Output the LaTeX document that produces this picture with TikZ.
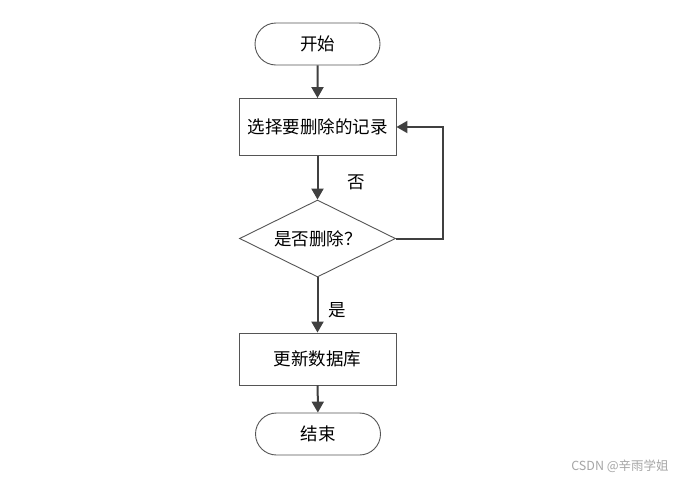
\documentclass[tikz,border=0pt]{standalone}
\usepackage{fontspec}
\newfontfamily\cjk{Noto Sans CJK SC}
\usetikzlibrary{shapes.geometric,shapes.misc,arrows.meta}
\definecolor{arr}{HTML}{404040}
\definecolor{edge}{HTML}{555555}
\tikzset{
  base/.style={draw=edge,line width=0.9pt,font=\cjk\fontsize{17.5}{20}\selectfont,inner sep=0pt},
  term/.style={base,rounded rectangle,minimum width=125pt,minimum height=42pt},
  proc/.style={base,rectangle,minimum width=157pt,minimum height=57pt},
  dec/.style={base,diamond,minimum width=156pt,minimum height=77pt},
  flow/.style={draw=arr,line width=2pt,-{Triangle[length=11pt,width=12pt]}},
  lab/.style={font=\cjk\fontsize{17.5}{20}\selectfont}
}
\begin{document}
\begin{tikzpicture}[x=1pt,y=-1pt]
\useasboundingbox[fill=white] (0,0) rectangle (677,480);
\node[term] (s) at (317.5,44) {开始};
\node[proc] (p1) at (317.5,127) {选择要删除的记录};
\node[dec] (d) at (317.5,238.5) {};
\node[lab] (dt) at (318,239) {是否删除？};
\node[proc,minimum height=52pt] (p2) at (317.5,359) {更新数据库};
\node[term] (e) at (318,434) {结束};
\coordinate (c1) at (443,238.5);
\coordinate (c2) at (443,127);
\draw[flow] (s) -- (p1);
\draw[flow] (p1) -- (d);
\draw[flow] (d) -- (p2);
\draw[flow] (p2) -- (e);
\draw[flow] (d.east) -- (c1) -- (c2) -- (p1.east);
\node[lab] (no) at (356,182) {否};
\node[lab] (yes) at (337,310) {是};
\node[font=\cjk\fontsize{12.5}{14}\selectfont,text=black!35] (wm) at (620,466) {CSDN @辛雨学姐};
\end{tikzpicture}
\end{document}
